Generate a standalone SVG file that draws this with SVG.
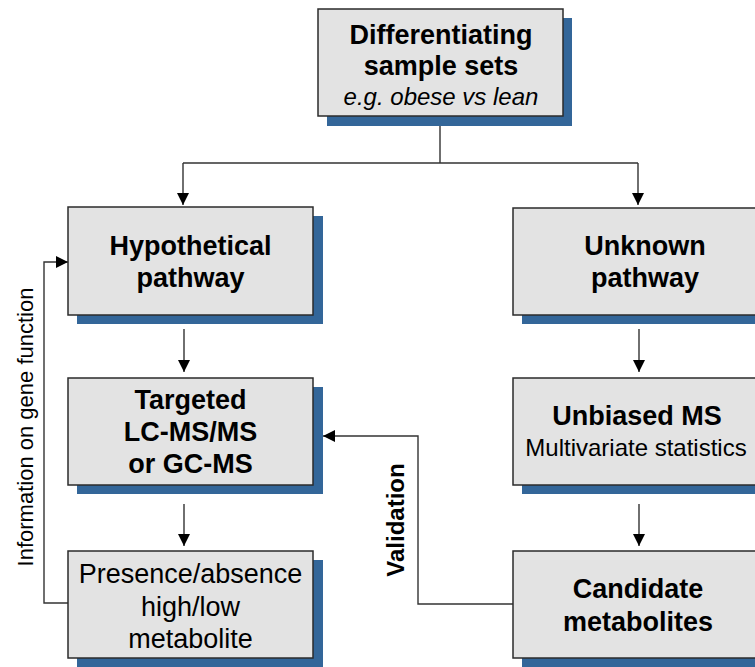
<svg xmlns="http://www.w3.org/2000/svg" width="755" height="667" viewBox="0 0 755 667">
<style>
.box{fill:#e3e3e3;stroke:#2b2b2b;stroke-width:1.5}
.sh{fill:#336699}
.b{font-family:"Liberation Sans",Arial,sans-serif;font-weight:bold;font-size:27px;fill:#000;text-anchor:middle}
.r{font-family:"Liberation Sans",Arial,sans-serif;font-size:24px;fill:#000;text-anchor:middle}
.rl{font-family:"Liberation Sans",Arial,sans-serif;font-size:27px;fill:#000;text-anchor:middle}
.ln{fill:none;stroke:#333;stroke-width:1.4}
</style>
<defs>
<marker id="ah" markerUnits="userSpaceOnUse" markerWidth="12" markerHeight="12" viewBox="0 0 12 12" refX="12" refY="6" orient="auto">
<path d="M0,0 L12,6 L0,12 Z" fill="#000"/>
</marker>
</defs>
<g id="connectors">
<path class="ln" d="M440,126 V163 M183,163 H638"/>
<path class="ln" d="M183,163 V205" marker-end="url(#ah)"/>
<path class="ln" d="M638,163 V205" marker-end="url(#ah)"/>
<path class="ln" d="M184,329 V372" marker-end="url(#ah)"/>
<path class="ln" d="M184,504 V546" marker-end="url(#ah)"/>
<path class="ln" d="M639,329 V372" marker-end="url(#ah)"/>
<path class="ln" d="M639,504 V546" marker-end="url(#ah)"/>
<path class="ln" d="M68,603 H44 V262 H68" marker-end="url(#ah)"/>
<path class="ln" d="M513,604 H418 V436 H323" marker-end="url(#ah)"/>
<text font-family="Liberation Sans,Arial,sans-serif" font-size="22" text-anchor="middle" transform="translate(33,427) rotate(-90)">Information on gene function</text>
<text font-family="Liberation Sans,Arial,sans-serif" font-size="24" font-weight="bold" text-anchor="middle" transform="translate(404,520) rotate(-90)">Validation</text>
</g>
<g id="n-top">
<rect class="sh" x="327" y="18" width="245" height="108"/>
<rect class="box" x="318" y="9" width="245" height="107"/>
<text class="b" x="441" y="44">Differentiating</text>
<text class="b" x="441" y="75">sample sets</text>
<text class="r" x="441" y="105" font-style="italic">e.g. obese vs lean</text>
</g>
<g id="n-hyp">
<rect class="sh" x="77" y="216" width="246" height="108"/>
<rect class="box" x="68" y="207" width="245" height="108"/>
<text class="b" x="190.5" y="255">Hypothetical</text>
<text class="b" x="190.5" y="287">pathway</text>
</g>
<g id="n-unknown">
<rect class="sh" x="522" y="217" width="264" height="107"/>
<rect class="box" x="513" y="208" width="264" height="107"/>
<text class="b" x="645" y="255">Unknown</text>
<text class="b" x="645" y="287">pathway</text>
</g>
<g id="n-targeted">
<rect class="sh" x="77" y="387" width="246" height="107"/>
<rect class="box" x="68" y="378" width="245" height="107"/>
<text class="b" x="190.5" y="409">Targeted</text>
<text class="b" x="190.5" y="441">LC-MS/MS</text>
<text class="b" x="190.5" y="473">or GC-MS</text>
</g>
<g id="n-unbiased">
<rect class="sh" x="522" y="387" width="264" height="107"/>
<rect class="box" x="513" y="378" width="264" height="107"/>
<text class="b" x="637" y="425">Unbiased MS</text>
<text class="r" x="636" y="456">Multivariate statistics</text>
</g>
<g id="n-presence">
<rect class="sh" x="77" y="560" width="246" height="107"/>
<rect class="box" x="68" y="551" width="245" height="107"/>
<text class="rl" x="190.5" y="583">Presence/absence</text>
<text class="rl" x="190.5" y="616">high/low</text>
<text class="rl" x="190.5" y="648">metabolite</text>
</g>
<g id="n-candidate">
<rect class="sh" x="522" y="560" width="264" height="107"/>
<rect class="box" x="513" y="551" width="264" height="107"/>
<text class="b" x="638" y="598">Candidate</text>
<text class="b" x="638" y="631">metabolites</text>
</g>
</svg>
